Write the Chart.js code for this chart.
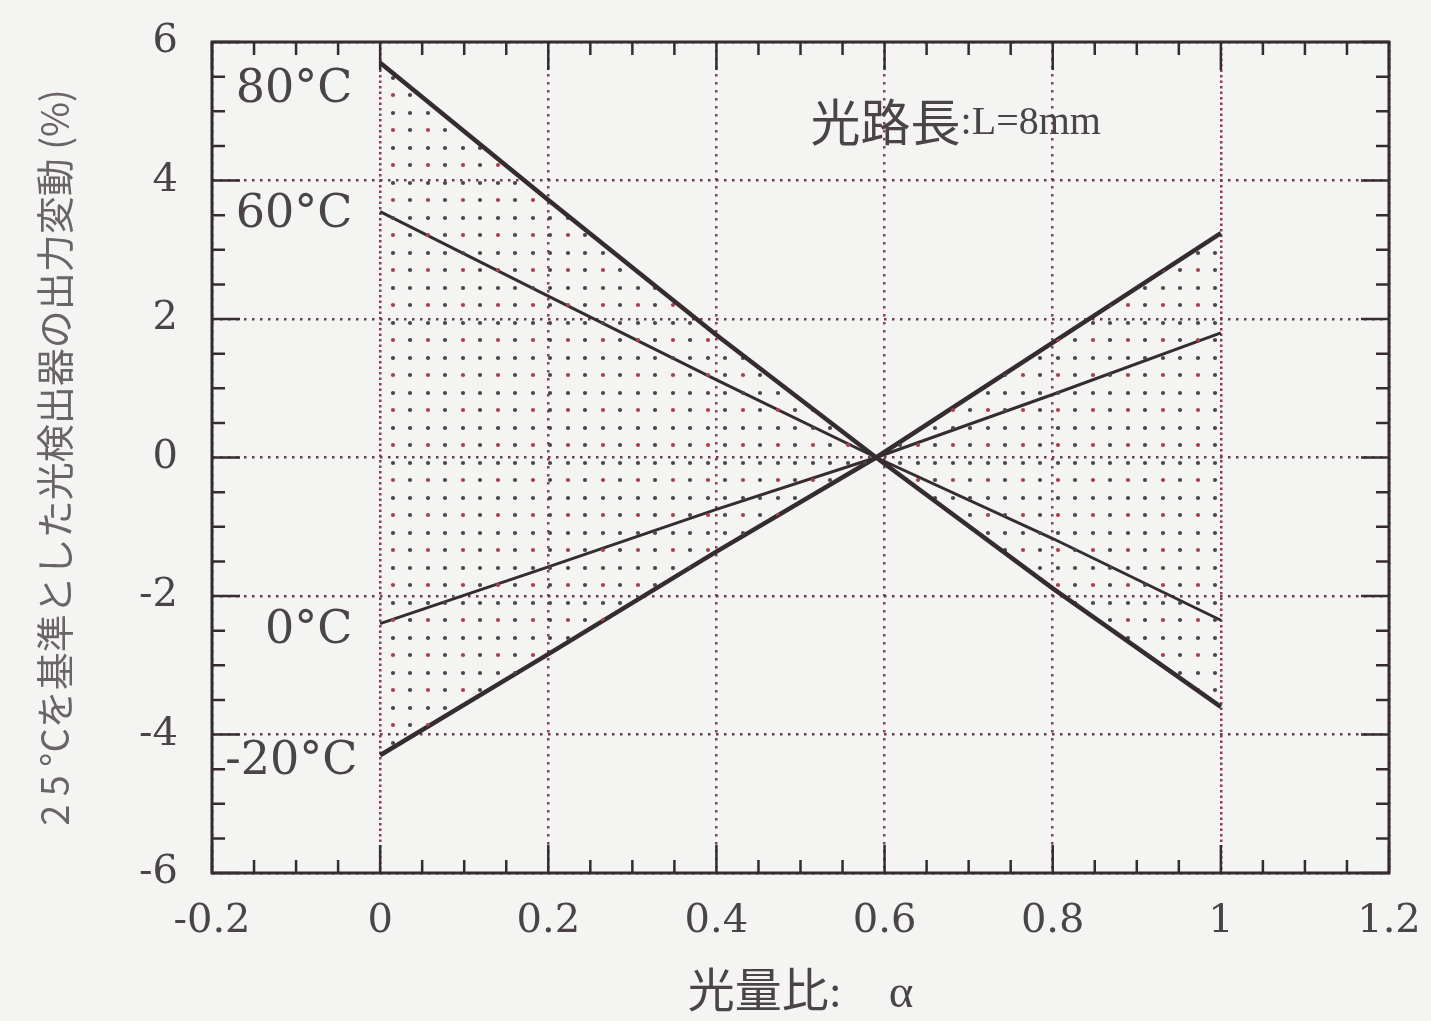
<!DOCTYPE html>
<html lang="ja">
<head>
<meta charset="utf-8">
<title>光量比と出力変動</title>
<script src="https://cdn.jsdelivr.net/npm/chart.js@4.4.1/dist/chart.umd.min.js"></script>
<style>
  html, body { margin: 0; padding: 0; background: #f4f4f3; }
  #wrap { width: 1431px; height: 1021px; }
</style>
</head>
<body>
<div id="wrap"><canvas id="grafico" width="1431" height="1021"></canvas></div>
<script>
// data
const alpha = [0, 0.2, 0.4, 0.59, 0.8, 1];
const t80 = [5.7, 3.72, 1.77, 0, -1.89, -3.6];
const t60 = [3.55, 2.33, 1.12, 0, -1.17, -2.35];
const t0 = [-2.4, -1.58, -0.75, 0, 0.91, 1.8];
const tm20 = [-4.3, -2.84, -1.36, 0, 1.66, 3.24];
const seriesNames = ['80°C', '60°C', '0°C', '-20°C'];

const xTicks = [-0.2, 0, 0.2, 0.4, 0.6, 0.8, 1, 1.2];
const xTickLabels = ['-0.2', '0', '0.2', '0.4', '0.6', '0.8', '1', '1.2'];
const yTicks = [-6, -4, -2, 0, 2, 4, 6];
const yTickLabels = ['-6', '-4', '-2', '0', '2', '4', '6'];

const ink = '#352c30';
const textGray = '#4a4447';

function pts(values) {
    return alpha.map(function (a, i) { return { x: a, y: values[i] }; });
}

// dotted fill like the screen tone in the original
function dotPattern() {
    const c = document.createElement('canvas');
    c.width = 35; c.height = 35;
    const g = c.getContext('2d');
    const dots = [[8, 8, '#4d4549'], [25, 8, '#4d4549'], [8, 25, '#a8404f'], [25, 25, '#4d4549']];
    dots.forEach(function (d) {
        g.fillStyle = d[2];
        g.beginPath();
        g.arc(d[0], d[1], 2.1, 0, Math.PI * 2);
        g.fill();
    });
    return g.createPattern(c, 'repeat');
}

// where the series names and the note sit (data coordinates)
const labelSpots = [[-0.033, 5.3], [-0.033, 3.5], [-0.033, -2.5], [-0.027, -4.4]];

const annotate = {
    id: 'annotate',
    afterDatasetsDraw(chart) {
        const { ctx, scales: { x, y } } = chart;
        ctx.save();
        ctx.fillStyle = textGray;
        ctx.textBaseline = 'middle';
        ctx.textAlign = 'right';
        ctx.font = '46px "DejaVu Serif"';
        labelSpots.forEach(function (p, i) {
            ctx.fillText(seriesNames[i], x.getPixelForValue(p[0]), y.getPixelForValue(p[1]));
        });
        ctx.textAlign = 'left';
        let px = x.getPixelForValue(0.512);
        const py = y.getPixelForValue(4.85);
        ctx.font = '50px "Noto Sans CJK JP"';
        ctx.fillText('光路長', px, py);
        px += ctx.measureText('光路長').width;
        ctx.font = '40px "Liberation Serif"';
        ctx.fillText(':L=8mm', px, py + 2);
        ctx.restore();
    }
};

// frame with inward major and minor ticks on all sides
const frame = {
    id: 'frame',
    afterDatasetsDraw(chart) {
        const { ctx, chartArea: a, scales: { x, y } } = chart;
        ctx.save();
        ctx.strokeStyle = ink;
        ctx.lineWidth = 3;
        ctx.strokeRect(a.left, a.top, a.right - a.left, a.bottom - a.top);
        ctx.lineWidth = 2.5;
        ctx.beginPath();
        for (let i = 0; i <= 28; i++) {
            const px = x.getPixelForValue(-0.2 + i * 0.05);
            const len = i % 4 === 0 ? 28 : 13;
            ctx.moveTo(px, a.bottom); ctx.lineTo(px, a.bottom - len);
            ctx.moveTo(px, a.top); ctx.lineTo(px, a.top + len);
        }
        for (let i = 0; i <= 24; i++) {
            const py = y.getPixelForValue(-6 + i * 0.5);
            const len = i % 4 === 0 ? 28 : 13;
            ctx.moveTo(a.left, py); ctx.lineTo(a.left + len, py);
            ctx.moveTo(a.right, py); ctx.lineTo(a.right - len, py);
        }
        ctx.stroke();
        ctx.restore();
    }
};

document.addEventListener("DOMContentLoaded", function () {

    const tone = dotPattern();

    new Chart(document.getElementById("grafico"), {
        type: "line",
        data: {
            datasets: [
                {
                    label: seriesNames[0],
                    data: pts(t80),
                    borderColor: ink,
                    borderWidth: 4.5,
                    backgroundColor: tone,
                    fill: 3
                },
                {
                    label: seriesNames[1],
                    data: pts(t60),
                    borderColor: ink,
                    borderWidth: 3,
                    fill: false
                },
                {
                    label: seriesNames[2],
                    data: pts(t0),
                    borderColor: ink,
                    borderWidth: 3,
                    fill: false
                },
                {
                    label: seriesNames[3],
                    data: pts(tm20),
                    borderColor: ink,
                    borderWidth: 4.5,
                    fill: false
                }
            ]
        },
        plugins: [annotate, frame],
        options: {
            responsive: false,
            animation: false,
            elements: { point: { radius: 0 }, line: { tension: 0 } },
            layout: { padding: { top: 42, right: 42, left: 0, bottom: 0 } },
            plugins: {
                legend: { display: false },
                tooltip: { enabled: false }
            },
            scales: {
                x: {
                    type: 'linear',
                    min: -0.2,
                    max: 1.2,
                    afterBuildTicks: function (s) { s.ticks = xTicks.map(function (v) { return { value: v }; }); },
                    afterFit: function (s) { s.height = 148; s.paddingLeft = 0; s.paddingRight = 0; },
                    grid: { color: '#8a3a5c', lineWidth: 2.5, drawTicks: false },
                    border: {
                        display: false,
                        dash: function (c) {
                            return c.tick && (c.tick.value === 0 || c.tick.value === 1) ? [2.5, 3] : [2.5, 5.5];
                        }
                    },
                    ticks: {
                        callback: function (v, i) { return xTickLabels[i]; },
                        font: { family: 'DejaVu Serif', size: 40 },
                        color: textGray,
                        padding: 25,
                        maxRotation: 0,
                        autoSkip: false
                    },
                    title: {
                        display: true,
                        text: '光量比:    α',
                        font: { family: "'Liberation Serif', 'Noto Sans CJK JP'", size: 47, lineHeight: 1.1 },
                        color: textGray,
                        padding: { top: 0, bottom: 0 }
                    }
                },
                y: {
                    type: 'linear',
                    min: -6,
                    max: 6,
                    afterBuildTicks: function (s) { s.ticks = yTicks.map(function (v) { return { value: v }; }); },
                    afterFit: function (s) { s.width = 212; s.paddingTop = 0; s.paddingBottom = 0; },
                    grid: { color: '#6e3a4c', lineWidth: 2.5, drawTicks: false },
                    border: { display: false, dash: [2.5, 5.5] },
                    ticks: {
                        callback: function (v, i) { return yTickLabels[i]; },
                        font: { family: 'DejaVu Serif', size: 40 },
                        color: textGray,
                        padding: 34
                    },
                    title: {
                        display: true,
                        text: '2 5 °Cを基準とした光検出器の出力変動 (%)',
                        font: { family: 'Noto Sans CJK JP', size: 38, lineHeight: 1.2 },
                        color: '#6a6466',
                        padding: { top: 32, bottom: 0 }
                    }
                }
            }
        }
    });

});
</script>
</body>
</html>
